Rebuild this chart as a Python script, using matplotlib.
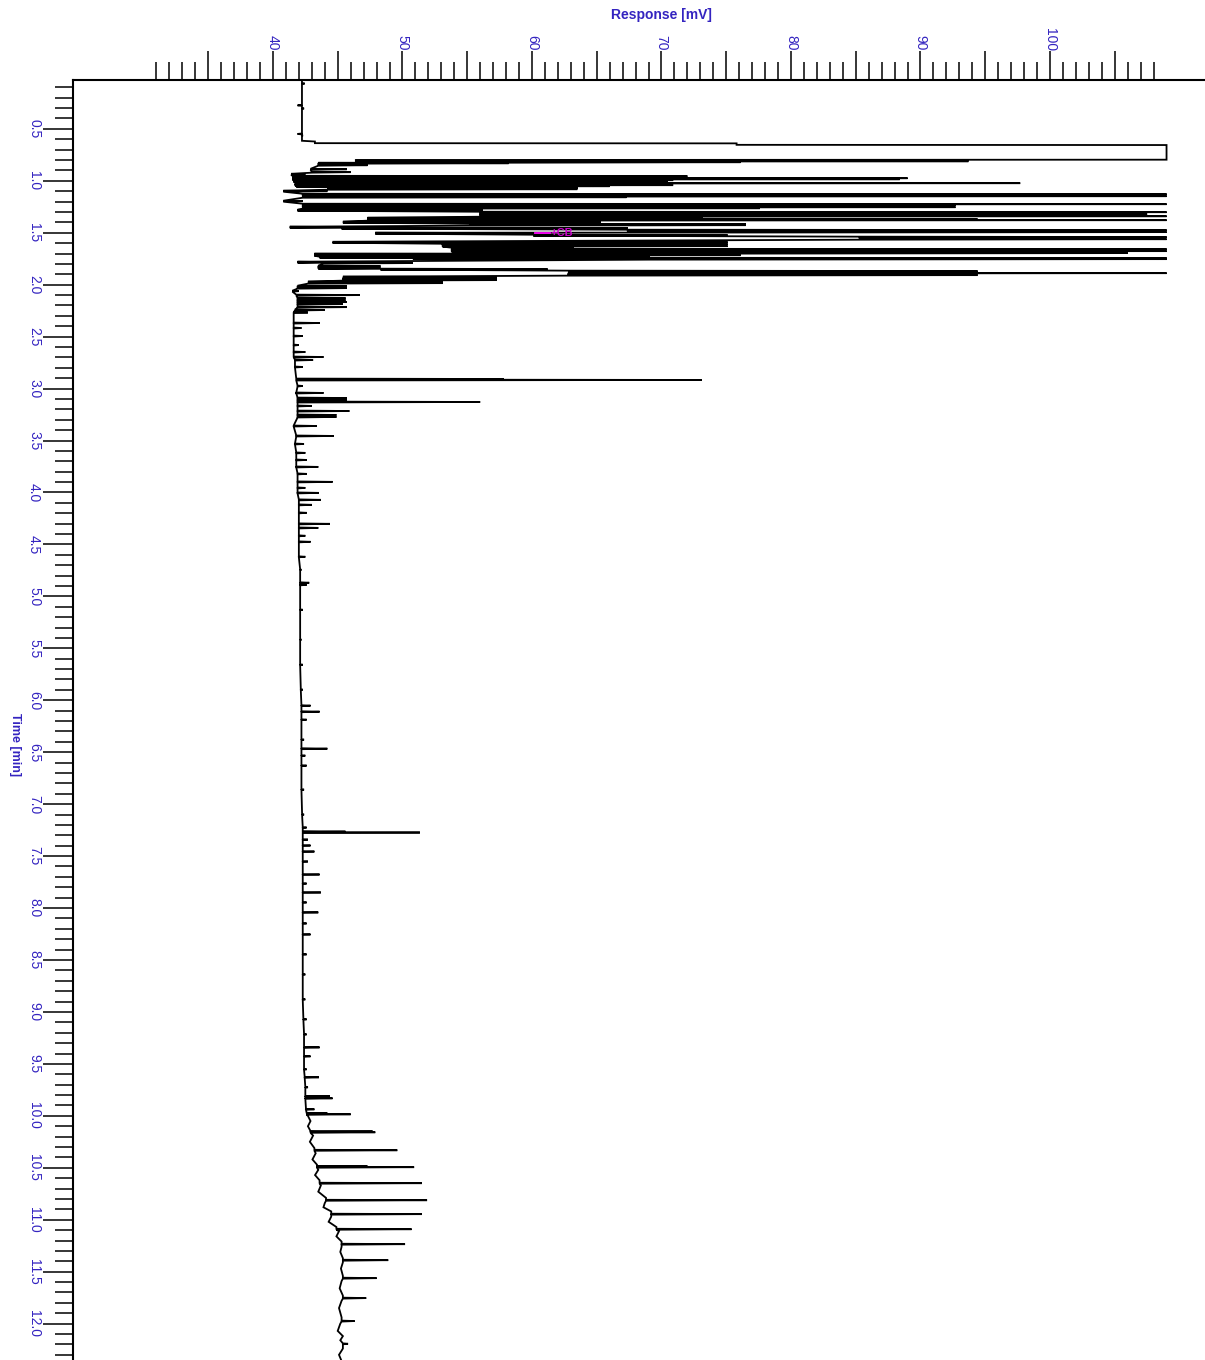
import matplotlib
matplotlib.use("Agg")
import matplotlib.pyplot as plt
from matplotlib.ticker import FixedLocator, FuncFormatter

plt.rcParams['font.family'] = ['Liberation Sans', 'DejaVu Sans']

# ---------------- data (time in min, response in mV) ----------------
# explicit vertices of the trace before the first dense cluster (incl. clipped solvent peak)
base_time = [0.03, 0.615, 0.622, 0.638, 0.640, 0.654, 0.656, 0.797, 0.800]
base_mv = [42.24, 42.24, 43.24, 43.24, 75.8, 75.8, 109.0, 109.0, 46.4]

# small noise marks on the starting baseline
void_time = [0.06, 0.27, 0.30, 0.545, 0.56]
void_base = [42.24, 42.24, 42.24, 42.24, 42.24]
void_apex = [42.45, 41.9, 42.4, 41.9, 42.3]

# dense cluster 0.8 - 2.05 min
dense_time = [0.808, 0.817, 0.827, 0.846, 0.885, 0.913, 0.933, 0.952, 0.962, 0.971,
              0.981, 0.990, 1.000, 1.019, 1.029, 1.038, 1.048, 1.058, 1.067, 1.077,
              1.096, 1.125, 1.144, 1.154,
              1.192, 1.221, 1.231, 1.250, 1.260, 1.279, 1.298, 1.317, 1.337, 1.356,
              1.365, 1.375, 1.394, 1.413, 1.423, 1.442, 1.452, 1.471, 1.490, 1.500,
              1.519, 1.538, 1.558, 1.587, 1.606, 1.625, 1.644, 1.654, 1.673, 1.692,
              1.702, 1.712, 1.731, 1.740, 1.750, 1.779, 1.788, 1.817, 1.837, 1.846,
              1.865, 1.875, 1.885, 1.904, 1.923, 1.933, 1.952, 1.971, 1.981, 2.010,
              2.029]
dense_base = [46.4, 58.2, 43.5, 43.5, 42.9, 43.0, 41.4, 41.5, 41.5, 41.5,
              41.5, 41.6, 41.6, 41.7, 41.7, 41.7, 41.8, 44.2, 44.2, 44.2,
              40.8, 42.3, 42.3, 42.3,
              40.8, 42.3, 42.3, 42.3, 42.3, 41.9, 56.0, 56.0, 56.0, 47.3,
              63.2, 47.3, 45.4, 55.2, 55.2, 41.3, 45.3, 67.4, 67.4, 47.9,
              60.1, 85.3, 85.3, 44.6, 53.1, 53.1, 53.8, 53.8, 53.8, 76.3,
              43.2, 43.2, 43.6, 50.8, 69.1, 41.9, 43.9, 43.5, 43.5, 48.3,
              62.8, 62.8, 62.8, 62.8, 45.4, 45.4, 45.4, 42.7, 42.7, 41.9,
              41.9]
dense_apex = [93.7, 76.1, 58.2, 47.3, 45.7, 46.0, 42.5, 72.0, 70.9, 89.0,
              88.4, 70.9, 70.5, 97.7, 63.5, 70.9, 66.0, 63.5, 63.5, 63.5,
              44.2, 109.0, 109.0, 67.3,
              42.3, 109.0, 92.7, 92.7, 77.6, 56.2, 109.0, 107.5, 109.0, 73.2,
              94.4, 109.0, 65.3, 76.5, 76.5, 45.3, 67.4, 109.0, 109.0, 60.1,
              75.1, 109.0, 109.0, 75.1, 75.1, 75.1, 63.2, 109.0, 109.0, 106.0,
              76.1, 76.1, 69.1, 109.0, 109.0, 43.9, 50.8, 48.3, 48.3, 61.2,
              94.4, 94.4, 109.0, 94.4, 57.3, 57.3, 57.3, 53.1, 53.1, 45.7,
              45.7]

# 2 - 10 min
mid_time = [2.058, 2.096, 2.125, 2.144, 2.163, 2.183, 2.212, 2.240, 2.264, 2.365,
            2.413, 2.490, 2.577, 2.644, 2.692, 2.721, 2.788, 2.904, 2.913, 2.971,
            3.038, 3.087, 3.106, 3.125, 3.163, 3.212, 3.250, 3.269, 3.356, 3.452,
            3.529, 3.615, 3.683, 3.750, 3.817, 3.894, 3.952, 4.000, 4.067, 4.115,
            4.192, 4.298, 4.337, 4.413, 4.471, 4.615, 4.740, 4.865, 4.885, 5.125,
            5.413, 5.654, 5.894, 6.048, 6.106, 6.183, 6.375, 6.462, 6.529, 6.625,
            6.856, 7.096, 7.221, 7.260, 7.269, 7.337, 7.394, 7.452, 7.548, 7.673,
            7.760, 7.846, 7.942, 8.038, 8.144, 8.250, 8.442, 8.635, 8.875, 9.067,
            9.212, 9.337, 9.423, 9.548, 9.625, 9.721, 9.808, 9.827, 9.933, 9.971,
            9.981]
mid_base = [41.5, 41.8, 41.9, 41.9, 41.9, 41.9, 41.9, 41.7, 41.6, 41.6,
            41.6, 41.6, 41.6, 41.6, 41.6, 41.7, 41.7, 41.8, 41.8, 41.9,
            41.8, 41.9, 41.9, 41.9, 41.9, 41.9, 41.9, 41.9, 41.6, 41.8,
            41.7, 41.8, 41.8, 41.8, 41.9, 41.9, 41.9, 41.9, 42.0, 42.0,
            42.0, 42.0, 42.0, 42.0, 42.0, 42.0, 42.1, 42.1, 42.1, 42.1,
            42.1, 42.1, 42.15, 42.2, 42.2, 42.2, 42.2, 42.2, 42.2, 42.2,
            42.2, 42.25, 42.3, 42.3, 42.3, 42.3, 42.3, 42.3, 42.3, 42.3,
            42.3, 42.3, 42.3, 42.3, 42.3, 42.3, 42.3, 42.3, 42.3, 42.35,
            42.4, 42.4, 42.4, 42.4, 42.45, 42.5, 42.5, 42.5, 42.55, 42.6,
            42.6]
mid_apex = [42.0, 46.7, 45.6, 45.6, 45.7, 45.4, 45.7, 44.0, 42.7, 43.6,
            42.2, 42.3, 42.0, 42.5, 43.9, 43.1, 42.3, 57.8, 73.1, 42.3,
            43.9, 45.7, 45.7, 56.0, 43.0, 45.9, 44.9, 44.9, 43.4, 44.7,
            42.4, 42.5, 42.6, 43.5, 42.6, 44.6, 42.5, 43.55, 43.7, 43.0,
            42.6, 44.4, 43.5, 42.5, 42.9, 42.5, 42.2, 42.8, 42.6, 42.3,
            42.2, 42.3, 42.3, 42.9, 43.6, 42.6, 42.4, 44.2, 42.5, 42.6,
            42.4, 42.4, 42.6, 45.6, 51.35, 42.7, 42.9, 43.2, 42.7, 43.6,
            42.6, 43.7, 42.6, 43.5, 42.6, 42.9, 42.6, 42.5, 42.5, 42.6,
            42.6, 43.6, 42.9, 42.6, 43.55, 42.7, 44.4, 44.6, 43.2, 44.2,
            46.0]

# 10 - 12.35 min: regular peak series
late_time = [10.146, 10.154, 10.327, 10.482, 10.490, 10.644, 10.808, 10.942, 11.087,
             11.231, 11.385, 11.558, 11.750, 11.971, 12.190]
late_base = [42.9, 42.9, 43.2, 43.4, 43.4, 43.6, 44.1, 44.5, 44.9,
             45.3, 45.4, 45.4, 45.4, 45.3, 45.4]
late_apex = [47.7, 47.9, 49.6, 47.3, 50.9, 51.5, 51.9, 51.5, 50.7,
             50.2, 48.9, 48.0, 47.2, 46.3, 45.8]

# baseline between the late peaks
drift_time = [10.00, 10.05, 10.10, 10.19, 10.25, 10.31, 10.36, 10.42, 10.47, 10.52,
              10.57, 10.62, 10.67, 10.73, 10.79, 10.84, 10.88, 10.92, 10.97, 11.02,
              11.07, 11.11, 11.16, 11.21, 11.26, 11.31, 11.37, 11.41, 11.47, 11.54,
              11.59, 11.66, 11.73, 11.78, 11.85, 11.94, 12.00, 12.07, 12.12, 12.16,
              12.24, 12.30, 12.36]
drift_mv = [42.7, 42.9, 42.7, 43.1, 42.85, 43.2, 43.3, 43.05, 43.4, 43.5,
            43.25, 43.6, 43.7, 43.5, 44.1, 44.0, 43.9, 44.5, 44.5, 44.3,
            44.9, 45.1, 44.9, 45.3, 45.3, 45.2, 45.4, 45.4, 45.25, 45.4,
            45.3, 45.15, 45.4, 45.3, 45.1, 45.3, 45.2, 45.0, 45.4, 45.2,
            45.4, 45.1, 45.3]

x_major = list(range(35, 106, 5))
x_minor = [v for v in range(31, 109) if v % 5 != 0]
x_labels = list(range(40, 101, 10))
cb_label = "+CB"
cb_time = 1.50
cb_mv = 60.2

# ---------------- build the polyline ----------------
events = []
for t, v in zip(base_time, base_mv):
    events.append((t, [(t, v)]))
for t, v in zip(drift_time, drift_mv):
    events.append((t, [(t, v)]))
for ts, bs, aps in [(void_time, void_base, void_apex), (dense_time, dense_base, dense_apex),
                    (mid_time, mid_base, mid_apex), (late_time, late_base, late_apex)]:
    for t, b, a in zip(ts, bs, aps):
        events.append((t, [(t, b), (t + 0.004, a), (t + 0.009, b)]))
events.sort(key=lambda e: e[0])
T, V = [], []
for _, pts in events:
    for t, v in pts:
        T.append(t)
        V.append(v)

# ---------------- figure ----------------
W, H = 1205, 1360
fig = plt.figure(figsize=(W / 100, H / 100), dpi=100)
ax = fig.add_axes([73 / W, 0, 1 - 73 / W, 1 - 80 / H])
ax.plot(V, T, color='black', lw=1.3, solid_joinstyle='miter', zorder=2)

ax.set_xlim(24.56, 111.97)
ax.set_ylim(12.35, 0.03)

for s in ('right', 'bottom'):
    ax.spines[s].set_visible(False)
for s in ('top', 'left'):
    ax.spines[s].set_linewidth(1.5)

lab_col = '#3424c0'
ax.xaxis.set_ticks_position('top')
ax.xaxis.set_major_locator(FixedLocator(x_major))
ax.xaxis.set_minor_locator(FixedLocator(x_minor))
ax.xaxis.set_major_formatter(FuncFormatter(lambda v, p: f"{int(round(v))}" if int(round(v)) in x_labels else ""))
ax.tick_params(axis='x', which='major', top=True, bottom=False, labeltop=True, labelbottom=False,
               direction='out', length=21, width=1.1, pad=0, labelsize=10, labelcolor=lab_col,
               labelrotation=-90)
ax.tick_params(axis='x', which='minor', top=True, bottom=False, direction='out', length=13, width=1.1)

yt_major = [0.5 * k for k in range(1, 25)]
yt_minor = [round(0.1 * k, 1) for k in range(1, 124) if k % 5 != 0]
ax.yaxis.set_major_locator(FixedLocator(yt_major))
ax.yaxis.set_minor_locator(FixedLocator(yt_minor))
ax.yaxis.set_major_formatter(FuncFormatter(lambda v, p: f"{v:.1f}"))
ax.tick_params(axis='y', which='major', left=True, right=False, direction='out', length=21.5, width=1.1,
               pad=1.5, labelsize=10, labelcolor=lab_col, labelrotation=-90)
ax.tick_params(axis='y', which='minor', left=True, right=False, direction='out', length=13, width=1.1)
for lbl in ax.get_yticklabels():
    lbl.set_va('center')

# CB marker
ax.plot([cb_mv, cb_mv + 1.2], [cb_time, cb_time], color='#ff00ff', lw=1.3, zorder=5)
ax.text(cb_mv + 1.2, cb_time, cb_label, color='#cc00cc', fontsize=8, fontweight='bold',
        va='center', ha='left', zorder=6)

fig.text(661 / W, 1 - 15 / H, "Response [mV]", color=lab_col, fontsize=10, fontweight='bold',
         ha='center', va='center')
fig.text(15 / W, 1 - 745 / H, "Time [min]", color=lab_col, fontsize=9, fontweight='bold',
         ha='center', va='center', rotation=-90)

fig.savefig("out.png", dpi=100)
